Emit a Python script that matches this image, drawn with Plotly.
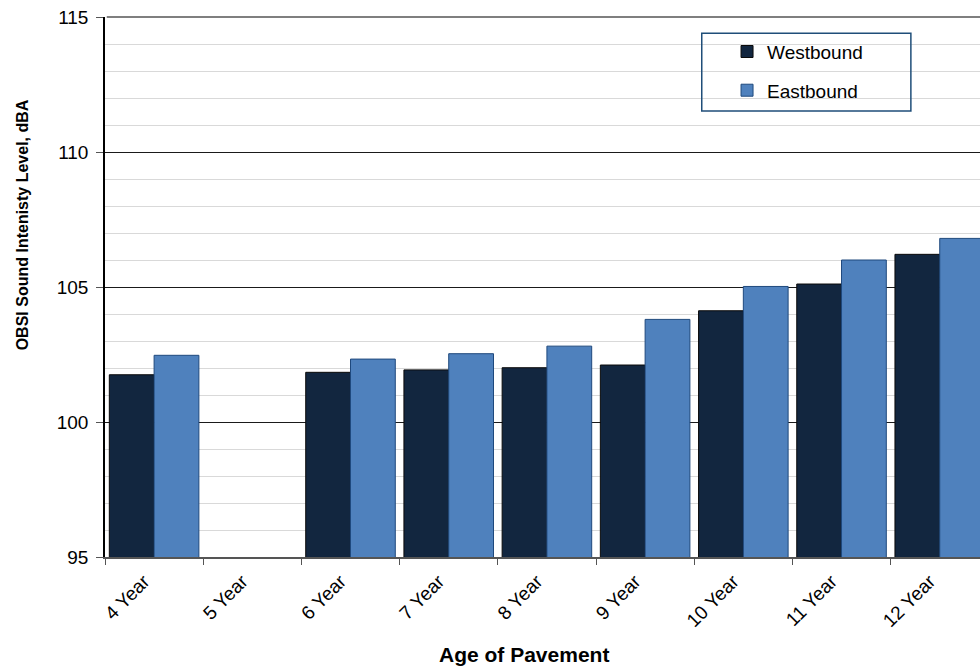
import plotly.graph_objects as go

categories = ["4 Year", "5 Year", "6 Year", "7 Year", "8 Year", "9 Year", "10 Year", "11 Year", "12 Year"]
westbound = [101.75, None, 101.84, 101.93, 102.01, 102.11, 104.12, 105.11, 106.21]
eastbound = [102.47, None, 102.33, 102.53, 102.81, 103.80, 105.02, 106.00, 106.80]
y_ticks = [95, 100, 105, 110, 115]

FONT = "Arial, Liberation Sans, Helvetica, sans-serif"

fig = go.Figure()
fig.add_trace(go.Bar(
    name="Westbound", x=categories, y=westbound, legendgroup="w",
    marker=dict(color="#12263f", line=dict(color="#0a0a0a", width=1)),
))
fig.add_trace(go.Bar(
    name="Eastbound", x=categories, y=eastbound, legendgroup="e",
    marker=dict(color="#4f81bd", line=dict(color="#1f497d", width=1)),
))

fig.update_layout(
    width=980, height=671,
    margin=dict(l=105, r=0, t=17, b=114),
    paper_bgcolor="white", plot_bgcolor="white",
    font=dict(family=FONT, size=19, color="#000"),
    barmode="group", bargap=0.088, bargroupgap=0,
    showlegend=True,
    legend=dict(
        x=0.7109, y=0.971, xanchor="left", yanchor="top",
        bgcolor="rgba(0,0,0,0)", borderwidth=0,
        font=dict(size=19, family=FONT, color="#000"),
        traceorder="grouped", tracegroupgap=11,
        itemwidth=30,
    ),
    xaxis=dict(
        type="category", categoryorder="array", categoryarray=categories,
        range=[-0.5, 8.41],
        tickson="boundaries", ticks="outside", ticklen=6, tickcolor="#555",
        tickangle=-45, tickfont=dict(size=19),
        ticklabelshift=-10, ticklabelstandoff=4,
        showline=True, linecolor="#555", linewidth=1.5,
        showgrid=False, zeroline=False,
    ),
    yaxis=dict(
        range=[95, 115], tickvals=y_ticks,
        ticks="outside", ticklen=7, tickcolor="#555",
        tickfont=dict(size=19), ticklabelstandoff=4,
        ticklabeloverflow="allow",
        showline=True, linecolor="#000", linewidth=1.5,
        showgrid=True, gridcolor="#1a1a1a", gridwidth=1,
        minor=dict(dtick=1, showgrid=True, gridcolor="#d9d9d9", gridwidth=1, ticks=""),
        zeroline=False,
    ),
    shapes=[
        dict(type="line", xref="paper", yref="paper", x0=0.002, x1=1, y0=1, y1=1,
             line=dict(color="#7f7f7f", width=2), layer="above"),
        dict(type="rect", xref="paper", yref="paper", x0=0.682, x1=0.921, y0=0.826, y1=0.970,
             line=dict(color="#1f4e79", width=1.5), fillcolor="rgba(0,0,0,0)", layer="above"),
    ],
    annotations=[
        dict(text="<b>OBSI Sound Intenisty Level, dBA</b>", textangle=-90,
             xref="paper", yref="paper", x=-0.0949, y=0.616,
             xanchor="center", yanchor="middle", showarrow=False,
             font=dict(size=16, family=FONT, color="#000")),
        dict(text="<b>Age of Pavement</b>",
             xref="paper", yref="paper", x=0.479, y=-0.181,
             xanchor="center", yanchor="middle", showarrow=False,
             font=dict(size=21, family=FONT, color="#000")),
    ],
)

fig.write_html(
    "out.html",
    config={"displayModeBar": False},
    post_script="document.body.style.margin='0';document.body.style.overflow='hidden';",
)
